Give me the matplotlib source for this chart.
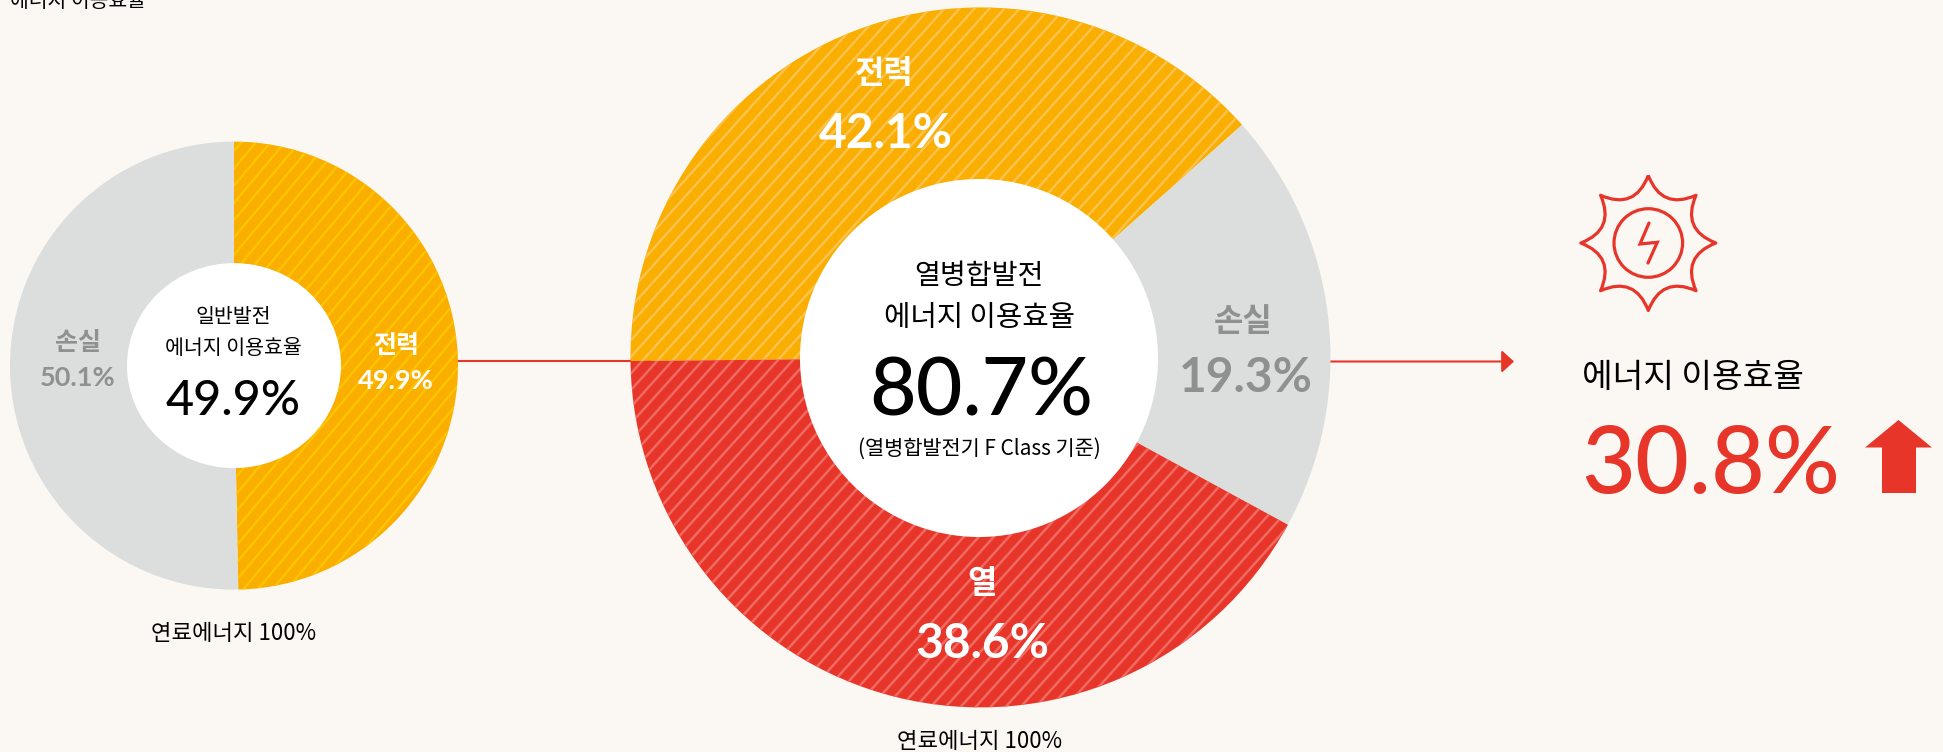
"""Energy efficiency comparison: conventional vs. cogeneration power, as two donuts."""

import matplotlib

matplotlib.use("Agg")
import matplotlib.pyplot as plt
import numpy as np
from matplotlib.collections import LineCollection
from matplotlib.patches import Circle, Ellipse, PathPatch, Polygon
from matplotlib.path import Path

plt.rcParams["font.family"] = ["Noto Sans CJK KR", "DejaVu Sans"]

W, H = 1943, 752
BG = "#FBF8F3"
ORANGE = "#F9AE00"
RED = "#E8352A"
GREY = "#DCDEDD"
GREY_TEXT = "#8F9090"
NUM_FONT = ["Lato", "DejaVu Sans"]

# wedge shares as drawn in the picture, clockwise
left_categories = ["전력", "손실"]
left_shares = [49.7, 50.3]
left_labels = ["49.9%", "50.1%"]
left_total = "49.9%"

# the orange and red wedges carry each other's label in the source
big_categories = ["전력", "손실", "열"]
big_shares = [38.6, 19.5, 41.9]
big_labels = ["42.1%", "19.3%", "38.6%"]
big_total = "80.7%"

gain_label = "30.8%"
fuel_label = "연료에너지 100%"


def py(y):
    return H - y


def stripes(ax, wedge, color, cx, cy, radius, step=15, angle=49, lw=1.8):
    # diagonal lines clipped to the wedge
    rise = 2 * radius
    run = rise / np.tan(np.radians(angle))
    starts = np.arange(cx - radius - run, cx + radius, step)
    segs = [[(x, cy - radius), (x + run, cy + radius)] for x in starts]
    lines = LineCollection(segs, colors=color, linewidths=lw, zorder=wedge.get_zorder() + 0.1)
    ax.add_collection(lines)
    lines.set_clip_path(wedge)


def label(ax, x, y, text, size, color="black", weight="normal", family=None):
    ax.text(x, py(y), text, fontsize=size, color=color, fontweight=weight,
            ha="center", va="center", family=family or plt.rcParams["font.family"], zorder=6)


def sun_icon(ax, cx, cy):
    outer, ctrl = 67.5, 35.3
    verts, codes = [], []
    for i in range(8):
        a = np.radians(90 - 45 * i)
        m = a - np.radians(22.5)
        if i == 0:
            verts.append((cx + outer * np.cos(a), cy + outer * np.sin(a)))
            codes.append(Path.MOVETO)
        b = a - np.radians(45)
        verts.append((cx + ctrl * np.cos(m), cy + ctrl * np.sin(m)))
        codes.append(Path.CURVE3)
        verts.append((cx + outer * np.cos(b), cy + outer * np.sin(b)))
        codes.append(Path.CURVE3)
    ax.add_patch(PathPatch(Path(verts, codes), fc="none", ec=RED, lw=2.3, joinstyle="round"))
    ax.add_patch(Circle((cx, cy), 34.3, fc="none", ec=RED, lw=2.3))
    ax.plot([cx + 0.7, cx - 8.3, cx + 9, cx - 0.3], [cy + 20, cy - 1, cy + 0.7, cy - 20],
            color=RED, lw=2.3, solid_capstyle="round", solid_joinstyle="miter")


def main():
    fig = plt.figure(figsize=(W / 100, H / 100), dpi=100, facecolor=BG)
    ax = fig.add_axes([0, 0, 1, 1])

    # connector lines sit under the donuts
    ax.plot([440, 650], [py(361), py(361)], color=RED, lw=1.5, zorder=0.5)
    ax.annotate("", xy=(1514, py(361.5)), xytext=(1320, py(361.5)),
                arrowprops=dict(arrowstyle="-|>,head_length=7.4,head_width=6.8", mutation_scale=1,
                                color=RED, lw=1.5, shrinkA=0, shrinkB=0), zorder=0.5)

    # left donut
    lx, ly, lr = 234, 365.6, 224
    wedges, _ = ax.pie(left_shares, colors=[ORANGE, GREY], startangle=90, counterclock=False,
                       center=(lx, py(ly)), radius=lr, wedgeprops=dict(linewidth=0))
    stripes(ax, wedges[0], "#FFC400", lx, py(ly), lr, step=14.5, angle=50, lw=1.7)
    ax.add_patch(Ellipse((lx, py(ly)), 214, 205, fc="white", ec="none", zorder=3))

    # big donut
    bx, by, br = 980.5, 357.4, 350
    wedges, _ = ax.pie(big_shares, colors=[ORANGE, GREY, RED], startangle=180.6, counterclock=False,
                       center=(bx, py(by)), radius=br, wedgeprops=dict(linewidth=0))
    stripes(ax, wedges[0], "#FBC24E", bx, py(by), br, angle=48)
    stripes(ax, wedges[2], "#EF6B61", bx, py(by), br, angle=48)
    ax.add_patch(Circle((979, py(358)), 179, fc="white", ec="none", zorder=3))

    ax.set_xlim(0, W)
    ax.set_ylim(0, H)
    ax.set_aspect("equal")
    ax.axis("off")

    # cut-off heading at the top edge
    ax.text(10, py(7), "에너지 이용효율", fontsize=14.7, color="black", ha="left", va="baseline")

    # left donut text
    label(ax, 78, 343, left_categories[1], 18, GREY_TEXT, "bold")
    label(ax, 77.5, 378, left_labels[1], 19.5, GREY_TEXT, "bold", NUM_FONT)
    label(ax, 395.6, 346, left_categories[0], 18, "white", "bold")
    label(ax, 395.6, 381, left_labels[0], 19.5, "white", "bold", NUM_FONT)
    label(ax, 233.5, 317, "일반발전", 14.8)
    label(ax, 233.5, 348, "에너지 이용효율", 14.8)
    label(ax, 233.5, 401, left_total, 35, weight="medium", family=NUM_FONT)
    label(ax, 233.6, 634, fuel_label, 16)

    # big donut text
    label(ax, 884, 74, big_categories[0], 23, "white", "bold")
    label(ax, 885.7, 134, big_labels[0], 34.5, "white", "bold", NUM_FONT)
    label(ax, 1243, 322, big_categories[1], 23, GREY_TEXT, "bold")
    label(ax, 1245.5, 378, big_labels[1], 34.5, GREY_TEXT, "bold", NUM_FONT)
    label(ax, 982.4, 584, big_categories[2], 23, "white", "bold")
    label(ax, 982, 644, big_labels[2], 34.5, "white", "bold", NUM_FONT)
    label(ax, 979, 276, "열병합발전", 20.3)
    label(ax, 979, 318, "에너지 이용효율", 20.7)
    label(ax, 981, 393, big_total, 58, weight="medium", family=NUM_FONT)
    label(ax, 979, 449, "(열병합발전기 F Class 기준)", 15)
    label(ax, 980, 741, fuel_label, 16)

    # result on the right
    sun_icon(ax, 1648.3, py(243))
    ax.text(1582, py(377), "에너지 이용효율", fontsize=24, color="black", ha="left", va="center")
    ax.text(1581, py(467), gain_label, fontsize=67, color=RED, fontweight="medium", ha="left", va="center",
            family=NUM_FONT)
    arrow = [(1898.5, 420), (1932, 447.5), (1916, 447.5), (1916, 493), (1882, 493), (1882, 447.5), (1865, 447.5)]
    ax.add_patch(Polygon([(x, py(y)) for x, y in arrow], fc=RED, ec="none"))

    fig.savefig("out.png", dpi=100, facecolor=BG)
    plt.close(fig)


if __name__ == "__main__":
    main()
